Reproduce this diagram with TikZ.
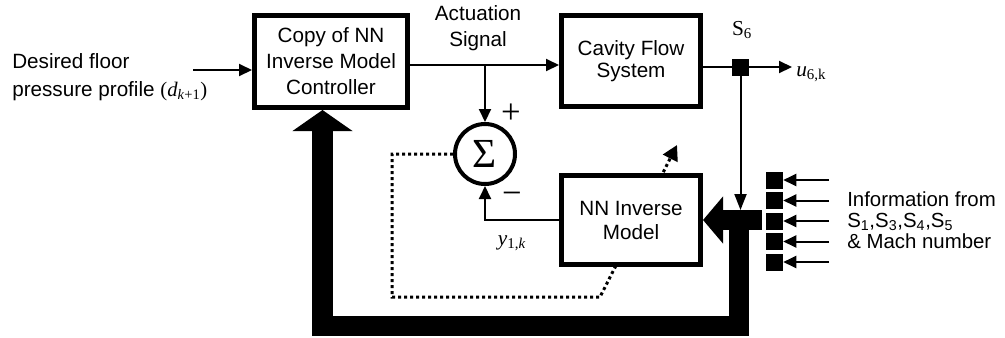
\documentclass[tikz,border=0pt]{standalone}
\usepackage{fontspec}
\setmainfont{Liberation Sans}
\newfontfamily\ser{Liberation Serif}
\usetikzlibrary{arrows.meta}
\begin{document}
\begin{tikzpicture}[x=0.75pt,y=-0.75pt,
  box/.style={draw,line width=3.75pt,fill=white,align=center,inner sep=0pt},
  thin/.style={line width=1.5pt},
  tip/.style={-{Triangle[length=9.75pt,width=9pt]}},
  fat/.style={line width=15.4pt},
  dots/.style={line width=2.25pt,dash pattern=on 2.25pt off 2.25pt},
  sq/.style={fill=black,minimum size=12.75pt,inner sep=0pt},
  txt/.style={inner sep=0pt},
  every node/.append style={font=\fontsize{15.5}{18.75}\selectfont}]
\useasboundingbox (0,0) rectangle (1005,337);

\node[box,minimum width=114.75pt,minimum height=69pt,font=\fontsize{15.5}{19.5}\selectfont] (ctrl) at (331,61.5) {Copy of NN\\Inverse Model\\Controller};
\node[box,minimum width=104.25pt,minimum height=68.25pt,font=\fontsize{15.5}{17}\selectfont] (cav) at (631,61) {Cavity Flow\\System};
\node[draw,circle,line width=3pt,minimum size=45pt,inner sep=0pt,fill=white,font=\fontsize{31}{31}\ser] (sum) at (485,154) {Σ};

% dotted training path (behind the NN box)
\coordinate (dA) at (392,297);
\coordinate (dB) at (600,297);
\coordinate (dT) at (677,145);
\draw[dots,-{Triangle[length=11.25pt,width=12pt]}] (sum.west) -| (dA) -- (dB) -- (dT);

\node[box,minimum width=104.25pt,minimum height=66.75pt,font=\fontsize{15.5}{18}\selectfont] (nn) at (631,220) {NN Inverse\\Model};

% input
\coordinate (in) at (193,70);
\draw[thin,tip] (in) -- (in -| ctrl.west);
\node[txt,anchor=west,align=left,font=\fontsize{15.5}{21}\selectfont] (des) at (12,77) {Desired floor\\pressure profile {\ser(\textit{d}\textsubscript{\textit{k}+1})}};

% actuation
\coordinate (aj) at (485,65);
\draw[thin,tip] (aj -| ctrl.east) -- (aj -| cav.west);
\draw[thin,tip] (aj) -- (sum.north);
\node[txt,align=center,font=\fontsize{15.5}{19}\selectfont] (actl) at (478,28) {Actuation\\Signal};

% minus input
\draw[thin,tip] (nn.west) -| (sum.south);
\node[txt,font=\fontsize{26}{26}\ser] (plus) at (511,114) {+};
\node[txt,font=\fontsize{26}{26}\ser] (minus) at (512,198) {−};
\node[txt,font=\fontsize{16}{16}\ser] (ylab) at (512,243) {\textit{y}\textsubscript{1,\textit{k}}};

% sensor S6 and output
\node[sq] (s6) at (740.5,67) {};
\draw[thin] (cav.east |- s6) -- (s6);
\coordinate (uo) at (792,67);
\draw[thin,tip] (s6) -- (uo);
\node[txt,anchor=west,font=\fontsize{16}{16}\ser] (ul) at (796,74) {\textit{u}\textsubscript{6,k}};
\node[txt,font=\fontsize{16}{16}\ser] (s6l) at (742,30) {S\textsubscript{6}};

% thick feedback
\coordinate (jt) at (739,210);
\coordinate (jr) at (762,220);
\coordinate (fl) at (322.5,326);
\draw[thin,-{Triangle[length=12pt,width=9pt]}] (s6) -- (s6 |- jt);
\draw[fat,-{Triangle[length=15pt,width=34.5pt]}] (jr) -- (nn.east);
\draw[fat,-{Triangle[length=15.75pt,width=44.25pt]}] (jt) |- (fl) -- (fl |- ctrl.south);

% other sensors
\foreach \i/\yy in {1/180,2/200.5,3/221,4/241.5,5/262}{
  \node[sq] (r\i) at (774.5,\yy) {};
  \coordinate (c\i) at (829,\yy);
  \draw[thin,tip] (c\i) -- (r\i);
}
\node[txt,anchor=west,align=left,font=\fontsize{15.3}{15.6}\selectfont] (info) at (847,220) {Information from\\S\textsubscript{1},S\textsubscript{3},S\textsubscript{4},S\textsubscript{5}\\\& Mach number};
\end{tikzpicture}
\end{document}
